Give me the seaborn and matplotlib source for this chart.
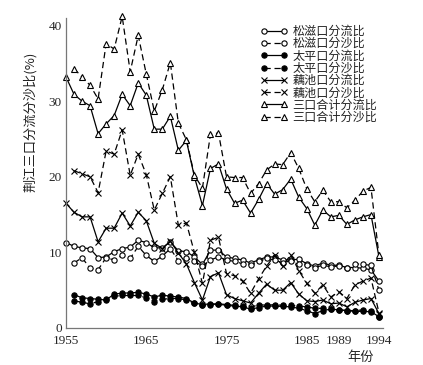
import numpy as np
import pandas as pd
import matplotlib
matplotlib.use("Agg")
import matplotlib.pyplot as plt
import seaborn as sns

years = list(range(1955, 1995))

sanko_flow = [33.2, 30.9, 30.0, 29.4, 25.7, 27.0, 28.1, 30.9, 29.4, 32.4,
              30.8, 26.3, 26.3, 28.0, 23.5, 24.8, 20.0, 16.2, 21.1, 21.7,
              18.4, 16.5, 16.9, 15.2, 17.0, 19.1, 17.7, 18.3, 19.7, 17.3,
              15.8, 13.6, 15.6, 14.7, 14.9, 13.7, 14.3, 14.7, 15.0, 9.4]
sanko_sed = [np.nan, 34.3, 33.2, 32.1, 30.3, 37.6, 36.9, 41.2, 33.9, 38.7,
             33.6, 28.7, 31.5, 35.1, 27.1, 24.9, 20.2, 18.5, 25.6, 25.8,
             20.0, 19.9, 19.9, 17.8, 19.1, 20.9, 21.7, 21.6, 23.2, 21.1,
             18.4, 16.7, 18.2, 16.7, 16.7, 15.9, 16.9, 18.1, 18.6, 9.6]
ouchi_flow = [16.5, 15.3, 14.7, 14.7, 11.4, 13.2, 13.2, 15.2, 13.5, 15.3,
              14.2, 11.2, 10.5, 11.5, 9.9, 8.5, 6.0, 3.7, 6.8, 7.3,
              4.4, 3.9, 3.6, 3.3, 4.6, 5.8, 5.0, 5.0, 6.0, 4.5,
              3.6, 3.5, 3.7, 3.2, 3.3, 2.8, 3.4, 3.7, 3.9, 1.9]
ouchi_sed = [np.nan, 20.8, 20.4, 20.0, 17.9, 23.4, 23.0, 26.2, 20.2, 23.0,
             20.3, 15.6, 17.8, 20.0, 13.6, 13.9, 10.0, 5.9, 11.6, 12.0,
             7.2, 6.9, 6.2, 4.6, 6.5, 8.2, 9.6, 8.2, 9.7, 7.6,
             5.9, 4.6, 5.7, 4.1, 4.8, 3.9, 5.7, 6.2, 6.6, 2.0]
songzi_flow = [11.3, 10.8, 10.6, 10.5, 9.3, 9.4, 10.1, 10.5, 10.7, 11.6,
               11.3, 10.6, 10.6, 11.4, 10.2, 10.1, 9.4, 8.4, 10.3, 10.3,
               9.4, 9.2, 9.0, 8.6, 9.0, 9.4, 9.4, 9.0, 9.0, 9.1,
               8.5, 8.2, 8.6, 8.3, 8.3, 8.0, 8.0, 7.9, 7.7, 6.2]
songzi_sed = [np.nan, 8.6, 9.3, 7.9, 7.7, 9.3, 9.0, 9.6, 9.2, 10.8,
              9.6, 8.8, 9.5, 10.5, 8.9, 9.3, 8.8, 8.2, 9.0, 9.4,
              9.0, 8.8, 8.5, 8.3, 8.8, 9.2, 9.0, 8.6, 8.9, 8.4,
              8.3, 8.0, 8.3, 8.1, 8.2, 7.9, 8.5, 8.4, 8.3, 5.0]
taiping_flow = [np.nan, 4.4, 4.0, 3.9, 3.8, 3.7, 4.5, 4.6, 4.65, 4.7,
                4.5, 4.1, 4.35, 4.2, 4.1, 3.9, 3.3, 3.1, 3.2, 3.15,
                3.0, 2.9, 2.8, 2.5, 2.7, 2.9, 2.9, 2.85, 2.8, 2.6,
                2.3, 1.9, 2.3, 2.5, 2.4, 2.3, 2.2, 2.2, 2.15, 1.5]
taiping_sed = [np.nan, 3.6, 3.4, 3.2, 3.5, 3.8, 4.2, 4.3, 4.3, 4.3,
               4.0, 3.5, 3.8, 3.9, 3.9, 3.7, 3.3, 3.0, 3.1, 3.2,
               3.1, 3.0, 2.9, 2.7, 3.1, 3.0, 3.1, 3.0, 3.0, 2.9,
               2.8, 2.6, 2.6, 2.5, 2.4, 2.3, 2.3, 2.4, 2.3, 1.4]

labels = ["松滋口分流比", "松滋口分沙比", "太平口分流比", "太平口分沙比",
          "藕池口分流比", "藕池口分沙比", "三口合计分流比", "三口合计分沙比"]
xtick_years = [1955, 1965, 1975, 1985, 1989, 1994]
yticks = [0, 10, 20, 30, 40]

series = [songzi_flow, songzi_sed, taiping_flow, taiping_sed,
          ouchi_flow, ouchi_sed, sanko_flow, sanko_sed]

sns.set_style("white")
plt.rcParams['font.family'] = ['Noto Sans CJK SC', 'DejaVu Sans']

fig = plt.figure(figsize=(4.23, 3.65), dpi=100)
ax = fig.add_axes([66/423, 1-328/365, (383-66)/423, (328-18)/365])

dash = (0, (5, 3))
styles = [
    dict(marker='o', mfc='white', ms=3.8, ls='-'),
    dict(marker='o', mfc='white', ms=3.8, ls=dash),
    dict(marker='o', mfc='black', ms=3.8, ls='-'),
    dict(marker='o', mfc='black', ms=3.8, ls=dash),
    dict(marker='x', mfc='black', ms=3.8, ls='-'),
    dict(marker='x', mfc='black', ms=3.8, ls=dash),
    dict(marker='^', mfc='white', ms=4.8, ls='-'),
    dict(marker='^', mfc='white', ms=4.8, ls=dash),
]

for vals, lab, st in zip(series, labels, styles):
    df = pd.DataFrame({"year": years, "value": vals}).dropna()
    sns.lineplot(data=df, x="year", y="value", ax=ax, color='black',
                 lw=0.9, marker=st['marker'], markersize=st['ms'],
                 markerfacecolor=st['mfc'], markeredgecolor='black',
                 markeredgewidth=0.8, linestyle=st['ls'], label=lab,
                 clip_on=False, legend=False)

ax.set_xlim(1955, 1994.5)
ax.set_ylim(0, 41)
ax.set_xticks(xtick_years)
ax.set_yticks(yticks)
ax.set_xticklabels([str(y) for y in xtick_years], family='Liberation Serif', fontsize=9.5)
ax.set_yticklabels([str(y) for y in yticks], family='Liberation Serif', fontsize=9.5)
ax.tick_params(direction='in', length=4, width=0.8, color='#777777', pad=3)
ax.tick_params(axis='x', pad=5)
for s in ['top', 'right']:
    ax.spines[s].set_visible(False)
for s in ['left', 'bottom']:
    ax.spines[s].set_color('#777777')
    ax.spines[s].set_linewidth(0.9)
ax.set_xlabel("")
ax.set_ylabel("")

fig.text(30/423, 1-122/365, "荆江三口分流分沙比(%)", rotation=90,
         ha='center', va='center', fontsize=9.5, color='#222222')
fig.text(361/423, 1-357/365, "年份", ha='center', va='center',
         fontsize=9.5, color='#222222')

handles, labs = ax.get_legend_handles_labels()
leg = ax.legend(handles, labs, loc='upper left', frameon=False,
                bbox_to_anchor=(260/423, 1-25/365), bbox_transform=fig.transFigure,
                fontsize=8.7, numpoints=2, handlelength=2.3, handletextpad=0.4,
                labelspacing=-0.06, borderpad=0, borderaxespad=0)
for t in leg.get_texts():
    t.set_color('#222222')

fig.savefig("out.png", dpi=100)
